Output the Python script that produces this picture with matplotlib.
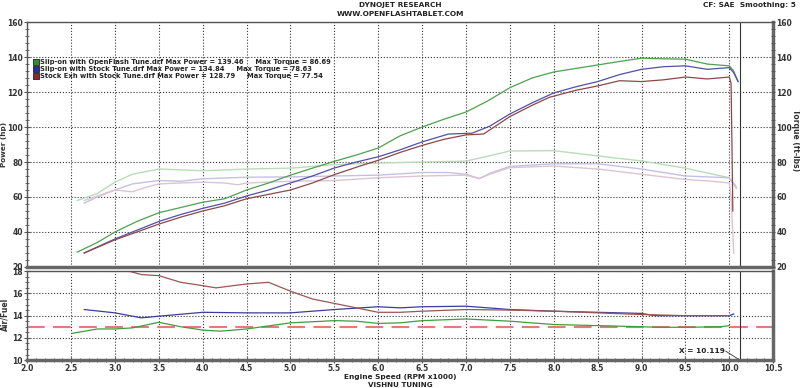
import numpy as np
from matplotlib import pyplot as plt
from matplotlib.ticker import MultipleLocator

plt.rcParams["font.family"] = "DejaVu Sans"
plt.rcParams["font.weight"] = "bold"

# power (hp) runs
rpm_g = [2.57, 2.8, 3.0, 3.25, 3.5, 3.75, 4.0, 4.25, 4.5, 4.75, 5.0, 5.25, 5.5, 5.75, 6.0, 6.25,
         6.5, 6.75, 7.0, 7.25, 7.5, 7.75, 8.0, 8.25, 8.5, 8.75, 9.0, 9.25, 9.5, 9.75, 10.0, 10.05, 10.1]
hp_g = [28.5, 34, 40, 46, 51, 54, 57, 59, 64, 68, 72.5, 76.5, 80.4, 84, 88, 95,
        100, 104.5, 108.6, 115, 122.5, 128, 131.5, 133.5, 135.5, 137.5, 139.4, 139, 138.8, 136, 135, 132, 126]

rpm_b = [2.65, 3.0, 3.25, 3.5, 3.75, 4.0, 4.25, 4.5, 4.75, 5.0, 5.25, 5.5, 5.75, 6.0, 6.25, 6.5,
         6.8, 7.07, 7.27, 7.5, 7.76, 8.0, 8.25, 8.5, 8.75, 9.0, 9.25, 9.5, 9.75, 10.0, 10.05, 10.1]
hp_b = [28, 36, 41, 46, 50, 53.5, 56.5, 60.6, 64, 68, 72, 76.6, 80, 83, 87, 91.5,
        96, 96.5, 100.5, 107.5, 114, 119.5, 123, 126, 130, 133, 134.5, 135, 133, 134, 131, 126]

rpm_r = [2.65, 3.0, 3.25, 3.5, 3.75, 4.0, 4.25, 4.5, 4.75, 5.0, 5.25, 5.5, 5.75, 6.0, 6.25, 6.5,
         6.75, 7.0, 7.2, 7.5, 7.76, 7.95, 8.25, 8.5, 8.75, 9.0, 9.25, 9.5, 9.75, 10.0, 10.02, 10.03, 10.04]
hp_r = [28, 35.5, 40, 44.5, 48.5, 52, 55, 59, 61.5, 64, 68, 72.8, 77, 81, 85.5, 89.5,
        93, 95.5, 96, 106, 112.6, 117, 121, 123.5, 126.5, 126, 127, 128.6, 127.5, 128.6, 125, 90, 52]

# torque (ft-lbs) runs
trpm_g = [2.57, 2.8, 3.0, 3.2, 3.5, 3.75, 4.0, 4.5, 5.0, 5.5, 6.0, 6.5, 7.0, 7.35, 7.5, 8.0,
          8.5, 9.0, 9.5, 10.0, 10.08]
tq_g = [58, 62, 68.5, 73, 76, 75.5, 75, 76, 76.5, 78.5, 79.4, 80, 80.5, 84.5, 86.3, 86.5,
        83.5, 80.6, 76.5, 71, 66]

trpm_b = [2.65, 2.8, 3.0, 3.2, 3.5, 3.75, 4.0, 4.5, 5.0, 5.5, 6.0, 6.5, 6.8, 7.0, 7.15, 7.27,
          7.5, 8.0, 8.5, 9.0, 9.5, 10.0, 10.08]
tq_b = [56.5, 60, 64, 67.5, 69.4, 69, 70.4, 71.3, 71.5, 72, 72.5, 74, 74, 73, 70.5, 73.5,
        77.5, 79, 79, 76, 72, 71, 65]

trpm_r = [2.65, 3.0, 3.2, 3.35, 3.5, 4.0, 4.25, 4.4, 4.5, 5.0, 5.5, 6.0, 6.5, 7.0, 7.15, 7.27,
          7.5, 8.0, 8.5, 9.0, 9.5, 9.8, 10.0, 10.02, 10.05]
tq_r = [58, 64, 63, 65.5, 67.5, 68.5, 68, 67, 68, 69, 69.4, 71, 72, 72.5, 70.5, 73,
        76.8, 77.7, 76, 73, 70, 69, 68, 60, 28]

# air/fuel runs
arpm_g = [2.51, 2.8, 3.0, 3.2, 3.5, 3.75, 4.0, 4.2, 4.5, 5.0, 5.5, 5.75, 6.0, 6.25, 6.5, 7.0,
          7.5, 8.0, 8.5, 9.0, 9.2, 9.5, 9.9, 10.0]
afr_g = [12.4, 12.8, 12.8, 12.9, 13.4, 13.0, 12.7, 12.6, 12.8, 13.35, 13.55, 13.5, 13.3, 13.35, 13.55, 13.7,
         13.5, 13.2, 13.1, 13.0, 12.95, 12.95, 13.0, 13.1]

arpm_b = [2.65, 3.0, 3.3, 3.5, 4.0, 4.5, 5.0, 5.5, 6.0, 6.25, 6.5, 7.0, 7.5, 8.0, 8.5, 9.0,
          9.15, 9.5, 10.0, 10.05]
afr_b = [14.55, 14.25, 13.8, 13.95, 14.3, 14.25, 14.25, 14.55, 14.8, 14.7, 14.8, 14.85, 14.55, 14.4, 14.3, 14.2,
         14.0, 14.0, 14.0, 14.15]

arpm_r = [3.1, 3.16, 3.3, 3.5, 3.75, 4.0, 4.15, 4.5, 4.75, 5.0, 5.25, 5.5, 5.75, 6.0, 6.25, 6.5,
          7.0, 7.5, 8.0, 8.5, 9.0, 9.5, 10.0]
afr_r = [18.4, 18.0, 17.7, 17.6, 17.0, 16.7, 16.5, 16.85, 17.0, 16.2, 15.5, 15.1, 14.7, 14.3, 14.3, 14.4,
         14.55, 14.5, 14.4, 14.25, 14.1, 14.0, 14.0]

target_afr = 13.0
cursor_x = 10.119

legend_lines = [
    "Slip-on with OpenFlash Tune.drf Max Power = 139.46     Max Torque = 86.69",
    "Slip-on with Stock Tune.drf Max Power = 134.84     Max Torque = 78.63",
    "Stock Exh with Stock Tune.drf Max Power = 128.79     Max Torque = 77.54",
]
legend_colors = ["#2f8f2f", "#2828c0", "#8a2a2a"]

fig = plt.figure(figsize=(8.0, 3.88), dpi=100)
ax1 = fig.add_axes([0.034, 0.312, 0.9325, 0.631])
ax2 = fig.add_axes([0.034, 0.072, 0.9325, 0.229])

txt = "#333333"

def style(ax):
    ax.grid(True, which="major", linestyle=":", color="#333333", linewidth=0.8)
    ax.set_xlim(2.0, 10.5)
    ax.xaxis.set_major_locator(MultipleLocator(0.5))
    ax.xaxis.set_minor_locator(MultipleLocator(0.1))
    for s in ["top", "left"]:
        ax.spines[s].set_color("#555555")
        ax.spines[s].set_linewidth(1.0)
    for s in ["bottom", "right"]:
        ax.spines[s].set_color("#666666")
        ax.spines[s].set_linewidth(2.5)
    ax.tick_params(which="both", direction="inout", colors="#555555", labelcolor=txt, labelsize=5.5)
    ax.tick_params(which="major", length=5)
    ax.tick_params(which="minor", length=3)

# top panel: power + torque
style(ax1)
ax1.set_ylim(20, 160)
ax1.yaxis.set_major_locator(MultipleLocator(20))
ax1.yaxis.set_minor_locator(MultipleLocator(4))
ax1.tick_params(axis="x", which="both", bottom=False, labelbottom=False)
ax1.tick_params(axis="y", pad=0.5)

ax1.plot(trpm_g, tq_g, color="#b9dcb9", lw=1.0)
ax1.plot(trpm_b, tq_b, color="#c4c0e4", lw=1.0)
ax1.plot(trpm_r, tq_r, color="#dcc4d2", lw=1.0)
ax1.plot(rpm_g, hp_g, color="#4f9f4f", lw=0.9)
ax1.plot(rpm_b, hp_b, color="#5050a8", lw=0.9)
ax1.plot(rpm_r, hp_r, color="#8c4848", lw=0.9)
ax1.axvline(cursor_x, color="#333333", lw=0.8)

ax1r = ax1.twinx()
ax1r.set_ylim(20, 160)
ax1r.yaxis.set_major_locator(MultipleLocator(20))
ax1r.yaxis.set_minor_locator(MultipleLocator(4))
ax1r.tick_params(which="both", direction="inout", colors="#555555", labelcolor=txt, labelsize=5.5, pad=0.5)
ax1r.tick_params(which="minor", length=3)
for s in ax1r.spines.values():
    s.set_visible(False)

fig.text(0.0055, 0.627, "Power (hp)", rotation=90, fontsize=5.2, color=txt, ha="center", va="center")
fig.text(0.994, 0.64, "Torque (ft-lbs)", rotation=270, fontsize=5.5, color=txt, ha="center", va="center")

for i, (lab, c) in enumerate(zip(legend_lines, legend_colors)):
    yy = 0.837 - i * 0.0286
    ax1.scatter([0.0115], [yy], s=14, marker="s", color=c, edgecolor="#222222", lw=0.6,
                transform=ax1.transAxes, zorder=5)
    ax1.text(0.0175, yy, lab, transform=ax1.transAxes, fontsize=4.9, color="#222222",
             va="center", ha="left")

# bottom panel: air/fuel
style(ax2)
ax2.set_ylim(10, 18)
ax2.yaxis.set_major_locator(MultipleLocator(2))
ax2.yaxis.set_minor_locator(MultipleLocator(0.5))
ax2.tick_params(axis="y", pad=0.5)
ax2.tick_params(axis="x", pad=0.3)
ax2.axhline(target_afr, color="#e47a7a", lw=1.5, dashes=(8.5, 4))
ax2.plot(arpm_g, afr_g, color="#3d9e3d", lw=0.9)
ax2.plot(arpm_b, afr_b, color="#3c3c9c", lw=0.9)
ax2.plot(arpm_r, afr_r, color="#9a5656", lw=0.9)
ax2.axvline(cursor_x, color="#333333", lw=0.8)
ax2.plot([9.96, cursor_x], [10.8, 10.0], color="#333333", lw=0.6)
ax2.text(9.95, 10.8, "X = " + str(cursor_x), fontsize=5.3, color="#222222", ha="right", va="center")
ax2.xaxis.set_major_formatter(plt.FuncFormatter(lambda v, p: "%.1f" % v))
fig.text(0.006, 0.19, "Air/Fuel", rotation=90, fontsize=5.5, color=txt, ha="center", va="center")

fig.text(0.5, 0.987, "DYNOJET RESEARCH", ha="center", va="center", fontsize=5.3, color="#222222")
fig.text(0.5, 0.964, "WWW.OPENFLASHTABLET.COM", ha="center", va="center", fontsize=5.3, color="#222222")
fig.text(0.995, 0.987, "CF: SAE  Smoothing: 5", ha="right", va="center", fontsize=5.3, color="#222222")
fig.text(0.5, 0.029, "Engine Speed (RPM x1000)", ha="center", va="center", fontsize=5.3, color="#222222")
fig.text(0.5, 0.008, "VISHNU TUNING", ha="center", va="center", fontsize=5.1, color="#222222")

fig.savefig("out.png", dpi=100, facecolor="white")
